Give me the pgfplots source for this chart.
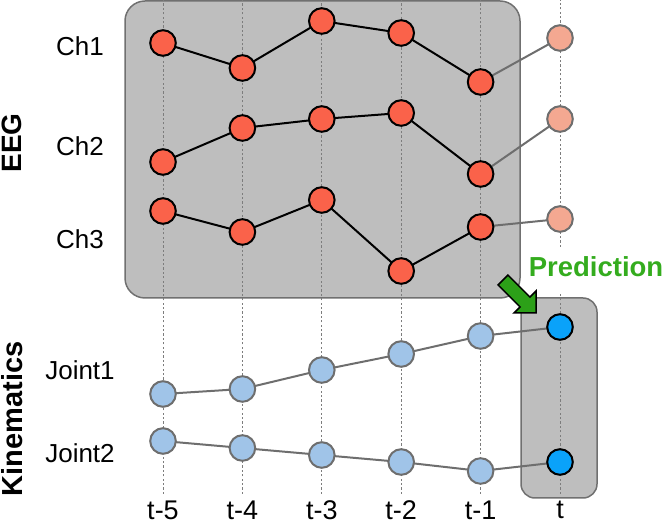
\documentclass[border=0pt]{standalone}
\usepackage{pgfplots}
\pgfplotsset{compat=1.18}
\usepackage{fontspec}
\setmainfont{Liberation Sans}
\definecolor{redpt}{RGB}{250,98,74}
\definecolor{palered}{RGB}{244,168,145}
\definecolor{lightblue}{RGB}{160,196,232}
\definecolor{brightblue}{RGB}{10,162,250}
\definecolor{boxgray}{RGB}{190,190,190}
\definecolor{boxedge}{RGB}{112,112,112}
\definecolor{edgegray}{RGB}{110,110,110}
\definecolor{dotgray}{RGB}{125,125,125}
\definecolor{arrowgreen}{RGB}{44,160,24}
\definecolor{textgreen}{RGB}{52,172,30}
\begin{document}
\begin{tikzpicture}[x=1pt,y=1pt]
\path[use as bounding box] (0,0) rectangle (666,527);
\filldraw[fill=boxgray, draw=boxedge, line width=1.5pt, rounded corners=20pt] (125,229) rectangle (520,526);
\filldraw[fill=boxgray, draw=boxedge, line width=1.5pt, rounded corners=14pt] (521,29) rectangle (597,229);
\begin{axis}[
  at={(0,0)}, anchor=south west,
  scale only axis, width=666pt, height=527pt,
  xmin=-2.0529, xmax=6.3350, ymin=0, ymax=527,
  axis line style={draw=none}, tick style={draw=none}, major tick length=0pt,
  xtick={0,...,5}, xticklabels={t-5,t-4,t-3,t-2,t-1,t},
  ytick={74,157,288,381,481}, yticklabels={Joint2,Joint1,Ch3,Ch2,Ch1},
  xticklabel style={anchor=center, yshift=17pt, font=\fontsize{27}{30}\selectfont},
  yticklabel style={anchor=center, xshift=80pt, font=\fontsize{26}{30}\selectfont},
  clip=false,
  dl/.style={draw=dotgray, line width=1pt, dash pattern=on 2.2pt off 2.2pt, forget plot},
  mark size=12.8pt,
]
% dotted time columns
\addplot[dl] coordinates {(0,33) (0,527)};
\addplot[dl] coordinates {(1,33) (1,527)};
\addplot[dl] coordinates {(2,33) (2,527)};
\addplot[dl] coordinates {(3,33) (3,527)};
\addplot[dl] coordinates {(4,33) (4,527)};
\addplot[dl] coordinates {(5,280) (5,527)};
\addplot[dl] coordinates {(5,33) (5,235)};
% EEG prediction links
\addplot[edgegray, line width=2pt, mark=*, mark indices={2}, mark options={solid, fill=palered, draw=edgegray, line width=2pt}] coordinates {(4,445) (5,489)};
\addplot[edgegray, line width=2pt, mark=*, mark indices={2}, mark options={solid, fill=palered, draw=edgegray, line width=2pt}] coordinates {(4,353) (5,408)};
\addplot[edgegray, line width=2pt, mark=*, mark indices={2}, mark options={solid, fill=palered, draw=edgegray, line width=2pt}] coordinates {(4,300) (5,308)};
% EEG channels
\addplot[black, line width=2pt, mark=*, mark options={solid, fill=redpt, draw=black, line width=2pt}] coordinates {(0,484) (1,459) (2,506) (3,494) (4,445)};
\addplot[black, line width=2pt, mark=*, mark options={solid, fill=redpt, draw=black, line width=2pt}] coordinates {(0,365) (1,399) (2,408) (3,414) (4,353)};
\addplot[black, line width=2pt, mark=*, mark options={solid, fill=redpt, draw=black, line width=2pt}] coordinates {(0,316) (1,295) (2,327) (3,256) (4,300)};
% Kinematics prediction links
\addplot[edgegray, line width=2pt, mark=*, mark indices={2}, mark options={solid, fill=brightblue, draw=black, line width=2pt}] coordinates {(4,191) (5,200)};
\addplot[edgegray, line width=2pt, mark=*, mark indices={2}, mark options={solid, fill=brightblue, draw=black, line width=2pt}] coordinates {(4,56) (5,65)};
% Kinematics joints
\addplot[edgegray, line width=2pt, mark=*, mark options={solid, fill=lightblue, draw=edgegray, line width=2pt}] coordinates {(0,133) (1,138) (2,157) (3,173) (4,191)};
\addplot[edgegray, line width=2pt, mark=*, mark options={solid, fill=lightblue, draw=edgegray, line width=2pt}] coordinates {(0,86) (1,79) (2,72) (3,65) (4,56)};
\end{axis}
\node[rotate=90, font=\bfseries\fontsize{28}{30}\selectfont] at (12,384) {EEG};
\node[rotate=90, font=\bfseries\fontsize{29}{30}\selectfont] at (12,108) {Kinematics};
\node[font=\bfseries\fontsize{27.5}{30}\selectfont, text=textgreen] at (596,260) {Prediction};
\filldraw[fill=arrowgreen, draw=black, line width=1.5pt, line join=miter] (507.95,251.95) -- (529.95,229.95) -- (536,236) -- (536,214) -- (514,214) -- (520.05,220.05) -- (498.05,242.05) -- cycle;
\end{tikzpicture}
\end{document}
